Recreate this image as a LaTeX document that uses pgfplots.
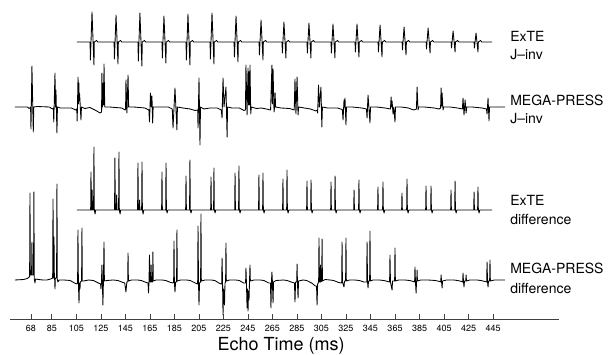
\documentclass[border=0pt]{standalone}
\usepackage{fontspec}
\setmainfont{TeX Gyre Heros}
\usepackage{pgfplots}
\pgfplotsset{compat=1.18}
\begin{document}
\begin{tikzpicture}
\path[use as bounding box] (0,0) rectangle (608pt,354pt);
\begin{axis}[
  at={(10pt,35pt)}, anchor=south west,
  scale only axis, width=549pt, height=319pt,
  xmin=50.9, xmax=498.8, ymin=0, ymax=319,
  axis y line=none, axis x line=bottom,
  x axis line style={-, black!75, line width=0.8pt},
  xtick={68,85,105,125,145,165,185,205,225,245,265,285,305,325,345,365,385,405,425,445},
  xticklabels={68,85,105,125,145,165,185,205,225,245,265,285,305,325,345,365,385,405,425,445},
  xtick align=inside, major tick length=5pt,
  tick style={black!75, line width=0.6pt},
  xticklabel style={font=\fontsize{9}{10}\selectfont, yshift=-3pt},
  clip=false,
  trace/.style={black, line width=0.85pt, mark=none, line join=round},
]
% ExTE J-inv
\addplot[trace] coordinates {
(105.5,277)
(116.2,277)(116.5,259)(117.8,307)(119.4,254)(119.7,277)(121.5,278.5)(122.5,277)
(135.8,277)(136.1,260)(137.4,304)(139.0,255)(139.3,277)(141.1,278.5)(142.1,277)
(155.3,277)(155.6,258)(156.9,306)(158.5,253)(158.8,277)(160.6,278.5)(161.6,277)
(174.9,277)(175.2,261)(176.5,303)(178.1,256)(178.4,277)(180.2,278.5)(181.2,277)
(194.5,277)(194.8,259)(196.1,305)(197.7,254)(198.0,277)(199.8,278.5)(200.8,277)
(214.1,277)(214.4,260)(215.7,306)(217.3,255)(217.6,277)(219.4,278.5)(220.4,277)
(233.7,277)(234.0,262)(235.3,303)(236.9,257)(237.2,277)(239.0,278.5)(240.0,277)
(254.1,277)(254.4,264)(255.7,299)(257.3,259)(257.6,277)(259.4,278.5)(260.4,277)
(272.8,277)(273.1,266)(274.4,297)(276.0,261)(276.3,277)(278.1,278.5)(279.1,277)
(293.2,277)(293.5,266)(294.8,296)(296.4,261)(296.7,277)(298.5,278.5)(299.5,277)
(312.8,277)(313.1,266)(314.4,295)(316.0,261)(316.3,277)(318.1,278.5)(319.1,277)
(332.4,277)(332.7,267)(334.0,295)(335.6,262)(335.9,277)(337.7,278.5)(338.7,277)
(351.2,277)(351.5,267)(352.8,294)(354.4,262)(354.7,277)(356.5,278.5)(357.5,277)
(370.8,277)(371.1,269)(372.4,292)(374.0,264)(374.3,277)(376.1,278.5)(377.1,277)
(390.4,277)(390.7,270)(392.0,291)(393.6,266)(393.9,277)(395.7,278.5)(396.7,277)
(410.8,277)(411.1,271)(412.4,288)(414.0,267)(414.3,277)(416.1,278.5)(417.1,277)
(429.5,277)(429.8,271)(431.1,286)(432.7,267)(433.0,277)(434.8,278.5)(435.8,277)
(444.2,277)
};
% MEGA-PRESS J-inv
\addplot[trace] coordinates {
(54.9,212)(65.0,212)(66.5,210.5)(67.7,212)(68.0,190)(68.8,253)(69.9,187)(70.3,212)(73,212.5)
(83,212)(85.5,210)(86.3,211)(86.6,197)(87.6,246)(88.0,212)(88.4,229)(89.2,186)(89.6,212)(92,211)
(101,211)(104.5,209)(105.4,210)(105.7,198)(106.4,242)(106.8,215)(107.1,236)(107.4,218)(107.7,225)(108.8,199)(109.2,212)(112,210.5)(116,211.5)
(121.0,208.5)(124.3,206)(125.6,207)(125.9,246)(126.3,212)(127.0,236)(127.3,214)(127.6,255)(128.2,212)(132,212)
(142,211)(144.8,209)(145.2,210)(145.5,239)(146.3,206)(147.2,244)(147.7,212)(152,212)
(161,211)(164.2,209)(164.7,197)(165.5,226)(166.1,212)(166.7,223)(167.3,196)(167.7,212)(172,212)
(180,212)(183.3,210)(183.9,191)(185.5,231)(187.1,189)(187.5,212)(192,211)
(198,210)(201.8,208.5)(204.0,209)(204.3,191)(205.1,241)(205.9,174)(206.3,212)(209,210)(214,211)
(220,211)(223.3,209)(223.9,201)(224.7,241)(225.5,212)(227.1,232)(228.0,182)(228.4,212)(232,211)
(238,211)(241.8,208.5)(243.0,209)(243.4,254)(244.3,204)(245.1,251)(245.5,214)(245.9,247)(246.3,214)(246.7,254)(247.3,205)(247.8,212)(252,210.5)(256,211)
(260,210)(263.5,209)(264.6,254)(265.0,215)(265.5,250)(266.3,207)(266.8,212)(267.2,226)(267.6,212)(272,211)
(279,210.5)(282.8,209)(283.4,240)(284.2,205)(285.1,242)(285.9,204)(286.4,212)(291,211)
(296,210)(300.5,208)(301.6,209)(301.9,206)(302.6,234)(303.3,212)(304.6,232)(305.3,192)(305.8,212)(310,211)
(318,211)(322.0,209.5)(322.6,199)(323.4,219)(323.8,212)(324.2,221)(325.0,194)(325.4,212)(330,212)
(338,211)(341.7,210)(342.2,201)(343.0,224)(344.6,196)(345.0,212)(350,212)
(357,211)(361.3,210)(361.8,222)(362.2,212)(362.6,218)(363.4,205)(364.0,212)(365.0,197)(365.4,212)(370,212)
(376,211)(380,209)(382.5,210)(383.0,232)(383.8,209)(384.3,212)(389,212)
(397,211)(401,210)(402.2,211)(402.6,231)(403.0,213)(403.4,226)(404.2,209)(404.7,212)(410,212)
(416,211)(420.0,210)(420.5,221)(421.3,204)(422.2,219)(423.0,206)(423.5,212)(428,212)
(436,211)(439.6,210)(440.1,205)(440.9,221)(441.7,198)(442.1,212)(448,212)(454.8,212)
};
% ExTE difference
\addplot[trace] coordinates {
(105.5,109)
(116.7,109)(116.96,147)(117.3,109)(117.6,109)(117.9,129)(118.2,109)(119.1,109)(119.4,172)(119.7,109)(120.3,105)(120.8,109)
(136.2,109)(136.5,161)(136.8,109)(137.6,109)(137.9,124)(138.2,109)(139.5,109)(139.8,167)(140.1,109)(140.7,105)(141.2,109)
(155.0,109)(155.3,156)(155.6,109)(156.3,109)(156.6,119)(156.9,109)(158.3,109)(158.6,157)(158.9,109)(159.5,105)(160,109)
(174.6,109)(174.9,147)(175.2,109)(177.9,109)(178.2,156)(178.5,109)(179.1,106)(179.6,109)
(194.2,109)(194.5,143)(194.8,109)(197.4,109)(197.7,159)(198.0,109)(198.6,106)(199.1,109)
(214.6,109)(214.9,142)(215.2,109)(217.0,109)(217.3,151)(217.6,109)(218.2,106)(218.7,109)
(234.2,109)(234.5,146)(234.8,109)(237.4,109)(237.7,153)(238.0,109)(238.6,106)(239.1,109)
(253.7,109)(254.0,144)(254.3,109)(257.0,109)(257.3,146)(257.6,109)(258.2,106)(258.7,109)
(273.3,109)(273.6,140)(273.9,109)(276.6,109)(276.9,149)(277.2,109)(277.8,106)(278.3,109)
(292.9,109)(293.2,138)(293.5,109)(296.2,109)(296.5,139)(296.8,109)(297.4,106)(297.9,109)
(312.5,109)(312.8,137)(313.1,109)(315.8,109)(316.1,143)(316.4,109)(317.0,106)(317.5,109)
(331.3,109)(331.6,129)(331.9,109)(335.3,109)(335.6,139)(335.9,109)(336.5,106)(337,109)
(350.8,109)(351.1,132)(351.4,109)(354.9,109)(355.2,137)(355.5,109)(356.1,106)(356.6,109)
(370.4,109)(370.7,126)(371.0,109)(374.5,109)(374.8,140)(375.1,109)(375.7,106)(376.2,109)
(390.0,109)(390.3,133)(390.6,109)(394.1,109)(394.4,133)(394.7,109)(395.3,106)(395.8,109)
(410.4,109)(410.7,129)(411.0,109)(413.7,109)(414.0,138)(414.3,109)(414.9,106)(415.4,109)
(429.2,109)(429.5,127)(429.8,109)(432.4,109)(432.7,132)(433.0,109)(433.6,106)(434.1,109)
(444.2,109)
};
% MEGA-PRESS difference
\addplot[trace] coordinates {
(54.9,39)(62,39.5)(65,40.5)(66.5,42)(66.9,42)(67.2,126)(67.5,44)(68.5,44)(68.8,77)(69.1,44)(70.1,44)(70.4,127)(70.7,40)(71.3,36)(71.7,40)(74,39.5)(78,39)
(81,39)(84,40)(85.7,41)(86.0,120)(86.3,41)(86.5,41)(86.8,82)(87.1,41)(87.3,41)(87.6,30)(87.9,41)(88.9,41)(89.2,135)(89.5,40)(90,37)(91,39)(95,39)
(100,38.5)(103.5,36)(105.5,35)(106.05,36)(106.35,89)(106.7,36)(107.2,16)(107.6,36)(108.0,30)(108.3,37)(109.3,38)(109.6,91)(109.9,38)(111,38)(115,39)
(119,38.5)(123,36)(124.8,35)(125.1,30)(125.5,36)(125.9,54)(126.3,36)(126.7,14)(127.1,36)(127.6,77)(127.9,38)(130,38.5)(135,39)
(139,38.5)(143,36.5)(144.5,36)(145.5,27)(146.2,37)(146.9,37)(147.2,66)(147.5,38)(150,39)(155,39)
(158,38.5)(162,36.5)(163.5,36)(163.9,26)(164.3,37)(164.7,64)(165.1,37)(165.7,37)(166.0,54)(166.3,37)(167.2,37)(167.5,67)(167.8,38)(170,39)(175,39)
(178,38.5)(182,36.5)(184.1,36)(184.4,37)(184.7,78)(185.0,37)(185.5,27)(186.0,37)(186.8,37)(187.1,89)(187.4,38)(190,39)(195,39)
(198,38.5)(202,36)(203.8,35)(204.0,36)(204.3,93)(204.7,36)(205.1,14)(205.5,36)(206.4,37)(206.7,105)(207.0,38)(210,39)(215,39)
(218,38.5)(222,35.5)(223.5,35)(223.6,36)(223.9,61)(224.3,36)(224.7,4)(225.1,30)(225.5,20)(225.9,14)(226.3,36)(226.8,37)(227.1,76)(227.4,38)(230,39)(235,39)
(238,38.5)(241.5,36)(243.1,36)(243.4,51)(243.8,36)(244.3,11)(244.7,30)(245.1,8)(245.5,28)(245.9,19)(246.3,37)(246.7,54)(247.0,38)(250,39)(255,39)
(258,38.5)(262,36)(263.4,36)(263.8,11)(264.2,37)(264.6,47)(265.0,37)(265.5,16)(265.9,37)(268,38.5)(274,39)
(277,38.5)(281.5,36.5)(283.0,36)(283.4,17)(283.9,37)(284.8,37)(285.1,55)(285.4,37)(285.9,21)(286.3,38)(290,39)
(293,38.5)(297,36)(300,33)(301.0,33)(301.4,14)(301.9,35)(302.7,37)(303.0,81)(303.3,37)(303.9,37)(304.2,54)(304.5,37)(305.2,38)(305.5,80)(305.8,38)(308,39.5)(312,39)
(315,38.5)(319,36.5)(321.2,36)(321.5,37)(321.8,77)(322.1,37)(323.4,32)(323.8,38)(324.7,38)(325.0,81)(325.3,38)(328,39)(332,39)
(336,38.5)(339.5,37)(341.9,37)(342.2,77)(342.6,37)(343.0,31)(343.4,38)(344.3,38)(344.6,88)(344.9,38)(347,39)(352,39)
(356,38.5)(359,37.5)(360.6,37)(360.9,64)(361.3,37)(362.6,29)(363.0,38)(364.7,38)(365.0,71)(365.3,38)(368,39)(373,39)
(377,38.5)(380,37.5)(381.0,37)(381.3,52)(381.7,37)(382.2,26)(382.6,38)(382.8,38)(383.0,49)(383.3,38)(386,39)(392,39)
(398,38.5)(401.5,37.5)(402.3,37)(402.6,44)(403.0,37)(403.4,31)(403.8,38)(407,39)(413,39)
(416,38.5)(419.5,37.5)(420.2,37)(420.5,46)(420.9,37)(421.3,32)(421.7,38)(422.7,38)(423.0,44)(423.3,38)(426,39)(432,39)
(435,38.5)(438.5,37.5)(439.8,37)(440.1,57)(440.5,37)(440.9,32)(441.3,38)(442.2,38)(442.5,59)(442.8,38)(446,39)(454.8,39)
};
\begin{scope}[every node/.style={anchor=west, inner sep=0pt, font=\fontsize{14}{16}\selectfont}]
\node at (axis cs:458.9,283) {ExTE};
\node at (axis cs:458.9,264) {J--inv};
\node at (axis cs:458.9,219) {MEGA-PRESS};
\node at (axis cs:458.9,200) {J--inv};
\node at (axis cs:458.9,119) {ExTE};
\node at (axis cs:458.9,100) {difference};
\node at (axis cs:458.9,51) {MEGA-PRESS};
\node at (axis cs:458.9,31) {difference};
\end{scope}
\node[font=\fontsize{18}{20}\selectfont] at (axis cs:272,-27) {Echo Time (ms)};
\end{axis}
\end{tikzpicture}
\end{document}
